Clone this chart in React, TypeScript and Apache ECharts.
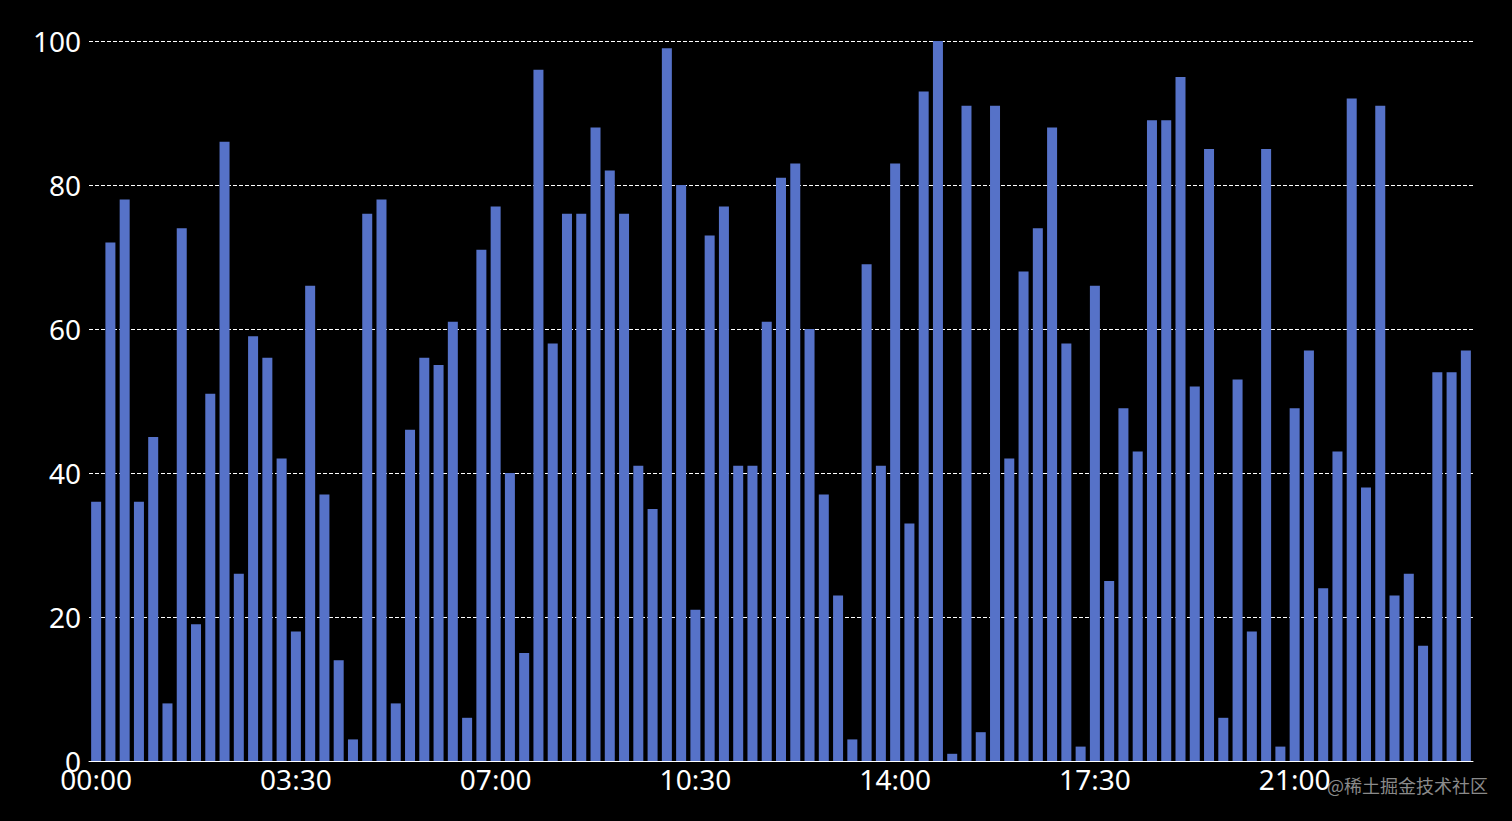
import React, { useEffect, useRef } from "react";
import * as echarts from "echarts";

const categories: string[] = [];
for (let i = 0; i <= 96; i++) {
  const h = Math.floor(i / 4);
  const m = (i % 4) * 15;
  categories.push(`${String(h).padStart(2, "0")}:${String(m).padStart(2, "0")}`);
}

const values = [
  36, 72, 78, 36, 45, 8, 74, 19, 51, 86,
  26, 59, 56, 42, 18, 66, 37, 14, 3, 76,
  78, 8, 46, 56, 55, 61, 6, 71, 77, 40,
  15, 96, 58, 76, 76, 88, 82, 76, 41, 35,
  99, 80, 21, 73, 77, 41, 41, 61, 81, 83,
  60, 37, 23, 3, 69, 41, 83, 33, 93, 100,
  1, 91, 4, 91, 42, 68, 74, 88, 58, 2,
  66, 25, 49, 43, 89, 89, 95, 52, 85, 6,
  53, 18, 85, 2, 49, 57, 24, 43, 92, 38,
  91, 23, 26, 16, 54, 54, 57,
];

const yTicks = [0, 20, 40, 60, 80, 100];

export default function App() {
  const ref = useRef<HTMLDivElement>(null);
  useEffect(() => {
    if (!ref.current) return;
    const chart = echarts.init(ref.current, null, { renderer: "svg" });
    chart.setOption({
      animation: false,
      backgroundColor: "#000000",
      grid: { left: 89, right: 39, top: 41, bottom: 60 },
      xAxis: {
        type: "category",
        data: categories,
        axisLine: { lineStyle: { color: "#ffffff", width: 1 } },
        axisTick: { show: false },
        axisLabel: {
          color: "#ffffff",
          fontSize: 28,
          fontFamily: "Noto Sans",
          interval: 13,
          margin: 4,
        },
      },
      yAxis: {
        type: "value",
        min: yTicks[0],
        max: yTicks[yTicks.length - 1],
        interval: 20,
        axisLine: { show: false },
        axisTick: { show: false },
        splitLine: { lineStyle: { color: "#ffffff", type: "dashed", width: 1 } },
        axisLabel: {
          color: "#ffffff",
          fontSize: 28,
          fontFamily: "Noto Sans",
          margin: 8,
          padding: [0, 0, 6, 0],
        },
      },
      series: [
        {
          type: "bar",
          data: values,
          barWidth: 10,
          itemStyle: { color: "#5672c8" },
        },
      ],
      graphic: [
        {
          type: "text",
          right: 24,
          top: 776,
          style: {
            text: "@稀土掘金技术社区",
            fill: "#8a8a8a",
            fontSize: 18,
            fontFamily: "Noto Sans CJK SC",
          },
        },
      ],
    });
    return () => chart.dispose();
  }, []);
  return <div ref={ref} style={{ width: 1512, height: 821, position: "absolute", left: 0, top: 0 }} />;
}
